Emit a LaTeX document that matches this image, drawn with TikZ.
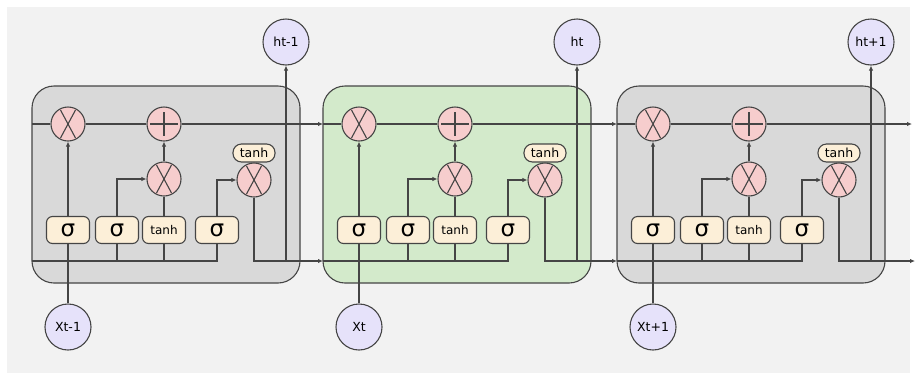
\documentclass[tikz,border=0pt]{standalone}
\usepackage{fontspec}
\setmainfont{DejaVu Sans}
\usetikzlibrary{arrows.meta,calc}
\definecolor{bgc}{HTML}{F2F2F2}
\definecolor{cellgray}{HTML}{D9D9D9}
\definecolor{cellgreen}{HTML}{D3EACB}
\definecolor{opfill}{HTML}{F6CDCD}
\definecolor{actfill}{HTML}{FCEFD8}
\definecolor{iofill}{HTML}{E6E2FA}
\definecolor{ln}{HTML}{454545}
\tikzset{
  wire/.style={draw=ln, line width=1.1pt},
  arr/.style={wire, -{Latex[length=5pt,width=4.5pt]}},
  cellbox/.style={rectangle, draw=ln, line width=1.1pt, rounded corners=22pt, minimum width=268pt, minimum height=197pt, inner sep=0pt},
  opnode/.style={circle, draw=ln, line width=1.1pt, fill=opfill, minimum size=34pt, inner sep=0pt},
  mulnode/.style={opnode, path picture={
    \draw[ln, line width=1.1pt] ([shift={(-7.5,-14)}]path picture bounding box.center) -- ([shift={(7.5,14)}]path picture bounding box.center)
      ([shift={(-7.5,14)}]path picture bounding box.center) -- ([shift={(7.5,-14)}]path picture bounding box.center);}},
  addnode/.style={opnode, path picture={
    \draw[ln, line width=1.6pt] ([shift={(-14,0)}]path picture bounding box.center) -- ([shift={(14,0)}]path picture bounding box.center)
      ([shift={(0,-12)}]path picture bounding box.center) -- ([shift={(0,12)}]path picture bounding box.center);}},
  actbox/.style={rectangle, draw=ln, line width=1.1pt, fill=actfill, rounded corners=6pt, minimum width=43pt, minimum height=27pt, inner sep=0pt},
  sigbox/.style={actbox, font=\fontsize{23}{23}\selectfont},
  tanhbox/.style={actbox, font=\fontsize{12}{12}\selectfont},
  tanhlabel/.style={rectangle, draw=ln, line width=1.1pt, fill=actfill, rounded corners=8.5pt, minimum width=42pt, minimum height=18pt, inner sep=0pt, font=\fontsize{12.5}{12.5}\selectfont},
  ionode/.style={circle, draw=ln, line width=1.1pt, fill=iofill, minimum size=46pt, inner sep=0pt, font=\fontsize{12.5}{12.5}\selectfont}
}
\newcommand\lstmcell[5]{%
  \begin{scope}[shift={(#2,0)}]
    \node[cellbox, fill=#3] (box#1) at (134,184.5) {};
    \coordinate (it#1) at (0,124);
    \coordinate (ib#1) at (0,261);
    \coordinate (hb#1) at (254,261);
    \node[mulnode] (xa#1) at (36,124) {};
    \node[addnode] (pl#1) at (132,124) {};
    \node[mulnode] (xb#1) at (132,179) {};
    \node[tanhlabel] (th#1) at (222,153) {tanh};
    \node[mulnode] (xc#1) at (222,180) {};
    \node[sigbox] (sa#1) at (36,230) {σ};
    \node[sigbox] (sb#1) at (85,230) {σ};
    \node[tanhbox] (tc#1) at (132,230) {tanh};
    \node[sigbox] (sd#1) at (185,230) {σ};
    \node[ionode] (h#1) at (254,42) {#4};
    \node[ionode] (x#1) at (36,327) {#5};
    \draw[wire] (x#1) -- (sa#1);
    \draw[arr] (sa#1) -- (xa#1);
    \draw[arr] (sb#1.north) |- (xb#1.west);
    \draw[wire] (tc#1) -- (xb#1);
    \draw[arr] (xb#1) -- (pl#1);
    \draw[arr] (sd#1.north) |- (xc#1.west);
    \draw[wire] (it#1) -- (xa#1);
    \draw[wire] (xa#1) -- (pl#1);
    \draw[wire] (ib#1) -| (sd#1.south);
    \draw[wire] (sb#1.south) -- (sb#1.south |- ib#1);
    \draw[wire] (tc#1.south) -- (tc#1.south |- ib#1);
    \draw[wire] (xc#1.south) |- (hb#1);
    \draw[arr] (hb#1) -- (h#1);
  \end{scope}}
\begin{document}
\begin{tikzpicture}[x=1pt,y=-1pt]
  \useasboundingbox (0,0) rectangle (917,381);
  \fill[white] (0,0) rectangle (917,381);
  \fill[bgc] (7,7) rectangle (910,373);
  \lstmcell{1}{32}{cellgray}{ht-1}{Xt-1}
  \lstmcell{2}{323}{cellgreen}{ht}{Xt}
  \lstmcell{3}{617}{cellgray}{ht+1}{Xt+1}
  \coordinate (endtop) at (912,124);
  \coordinate (endbot) at (915,261);
  \draw[arr] (pl1) -- (it2);
  \draw[arr] (hb1) -- (ib2);
  \draw[arr] (pl2) -- (it3);
  \draw[arr] (hb2) -- (ib3);
  \draw[arr] (pl3) -- (endtop);
  \draw[arr] (hb3) -- (endbot);
\end{tikzpicture}
\end{document}
